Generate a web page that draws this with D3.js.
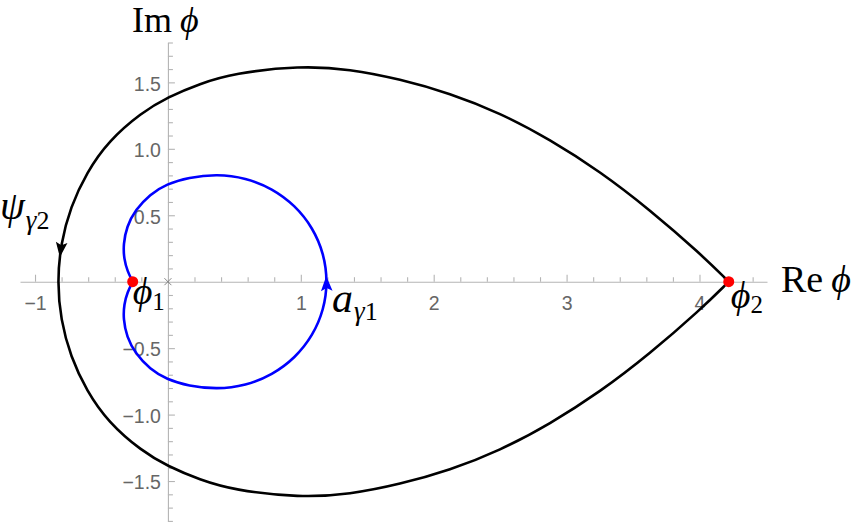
<!DOCTYPE html>
<html lang="en">
<head>
  <meta charset="utf-8" />
  <script src="https://d3js.org/d3.v7.min.js"></script>
  <style>
    body {
      margin: 0;
      background: #fff;
    }
    .tick text {
      font-family: "Liberation Sans", Arial, sans-serif;
      font-size: 19.5px;
      fill: #666;
    }
    .math {
      font-family: "Liberation Serif", "DejaVu Serif", serif;
      fill: #000;
    }
  </style>
</head>
<body>
  <script>
    var width = 857,
      height = 522;

    // plot range
    var xDomain = [-1.113, 4.508];
    var yDomain = [-1.8, 1.8];

    // tick values
    var xMajorTicks = [-1, 1, 2, 3, 4];
    var xMinorTicks = [-0.8, -0.6, -0.4, -0.2, 0.2, 0.4, 0.6, 0.8, 1.2, 1.4, 1.6, 1.8,
      2.2, 2.4, 2.6, 2.8, 3.2, 3.4, 3.6, 3.8, 4.2, 4.4];
    var yMajorTicks = [-1.5, -1.0, -0.5, 0.5, 1.0, 1.5];
    var yMinorTicks = [-1.8, -1.7, -1.6, -1.4, -1.3, -1.2, -1.1, -0.9, -0.8, -0.7, -0.6,
      -0.4, -0.3, -0.2, -0.1, 0.1, 0.2, 0.3, 0.4, 0.6, 0.7, 0.8, 0.9,
      1.1, 1.2, 1.3, 1.4, 1.6, 1.7, 1.8];

    // psi_gamma2 : black contour, from phi2 counterclockwise back to phi2
    var blackCurve = [
      [4.22, 0], [4.003, 0.214], [3.627, 0.541], [3.251, 0.830], [2.875, 1.070],
      [2.499, 1.270], [2.122, 1.418], [1.746, 1.524], [1.370, 1.600], [0.994, 1.625],
      [0.492, 1.568], [0.24, 1.49], [0, 1.39], [-0.20, 1.272], [-0.448, 1.058],
      [-0.612, 0.821], [-0.733, 0.562], [-0.807, 0.285], [-0.832, 0],
      [-0.807, -0.285], [-0.733, -0.562], [-0.612, -0.821], [-0.448, -1.058],
      [-0.20, -1.272], [0, -1.39], [0.24, -1.49], [0.492, -1.568], [0.994, -1.625],
      [1.370, -1.600], [1.746, -1.524], [2.122, -1.418], [2.499, -1.270], [2.875, -1.070],
      [3.251, -0.830], [3.627, -0.541], [4.003, -0.214], [4.22, 0]
    ];

    // a_gamma1 : blue loop, from phi1 counterclockwise back to phi1
    var blueCurve = [
      [-0.265, 0], [-0.305, -0.08], [-0.33, -0.17], [-0.336, -0.28], [-0.31, -0.415],
      [-0.245, -0.54], [-0.135, -0.658], [-0.01, -0.735], [0.155, -0.785],
      [0.37, -0.81], [0.585, -0.782], [0.786, -0.701], [0.958, -0.573],
      [1.091, -0.405], [1.174, -0.21], [1.202, 0], [1.174, 0.21], [1.091, 0.405],
      [0.958, 0.573], [0.786, 0.701], [0.585, 0.782], [0.37, 0.81], [0.155, 0.785],
      [-0.01, 0.735], [-0.135, 0.658], [-0.245, 0.54], [-0.31, 0.415], [-0.336, 0.28],
      [-0.33, 0.17], [-0.305, 0.08], [-0.265, 0]
    ];

    // where the direction arrows sit (tip) on each contour
    var arrowTips = [
      { curve: "black", re: -0.815, im: 0.19 },
      { curve: "blue", re: 1.202, im: 0.035 }
    ];

    // critical points
    var points = [
      { name: "phi1", re: -0.265, im: 0 },
      { name: "phi2", re: 4.22, im: 0 }
    ];

    var svg = d3.select("body")
      .append("svg")
      .attr("width", width)
      .attr("height", height);

    var x = d3.scaleLinear().domain(xDomain).range([20, 767]);
    var y = d3.scaleLinear().domain(yDomain).range([520.9, 42.5]);

    var axisColor = "#b4b4b4";

    // x axis
    var xAxisG = svg.append("g")
      .attr("transform", "translate(0," + y(0) + ")");
    xAxisG.append("g")
      .call(d3.axisBottom(x).tickValues(xMinorTicks).tickSizeInner(-4.5).tickSizeOuter(0).tickFormat(""));
    xAxisG.append("g")
      .call(d3.axisBottom(x).tickValues(xMajorTicks).tickSizeInner(-7).tickSizeOuter(0)
        .tickPadding(14).tickFormat(d3.format("d")))
      .call(function (g) { g.select(".domain").remove(); });

    // y axis
    var yAxisG = svg.append("g")
      .attr("transform", "translate(" + x(0) + ",0)");
    yAxisG.append("g")
      .call(d3.axisLeft(y).tickValues(yMinorTicks).tickSizeInner(-5).tickSizeOuter(0).tickFormat(""));
    yAxisG.append("g")
      .call(d3.axisLeft(y).tickValues(yMajorTicks).tickSizeInner(-7).tickSizeOuter(0)
        .tickPadding(7).tickFormat(d3.format(".1f")))
      .call(function (g) { g.select(".domain").remove(); })
      .selectAll("text").attr("dy", "0.4em");

    svg.selectAll(".domain, .tick line")
      .attr("stroke", axisColor)
      .attr("stroke-width", 1.1);

    // little cross at the origin
    var ox = x(0), oy = y(0);
    svg.append("path")
      .attr("d", "M" + (ox - 3.5) + "," + (oy - 3.5) + "L" + (ox + 3.5) + "," + (oy + 3.5) +
        "M" + (ox - 3.5) + "," + (oy + 3.5) + "L" + (ox + 3.5) + "," + (oy - 3.5))
      .attr("stroke", "#777")
      .attr("stroke-width", 0.9);

    // B-spline through the read points keeps the contours smooth
    var line = d3.line()
      .x(function (d) { return x(d[0]); })
      .y(function (d) { return y(d[1]); })
      .curve(d3.curveBasis);

    var paths = {};
    paths.blue = svg.append("path")
      .datum(blueCurve)
      .attr("d", line)
      .attr("fill", "none")
      .attr("stroke", "#0000ff")
      .attr("stroke-width", 2.6);

    paths.black = svg.append("path")
      .datum(blackCurve)
      .attr("d", line)
      .attr("fill", "none")
      .attr("stroke", "#000")
      .attr("stroke-width", 2.6);

    var colors = { black: "#000", blue: "#0000ff" };

    // arrowhead at the point of the path closest to the tip, following the path direction
    arrowTips.forEach(function (a) {
      var node = paths[a.curve].node();
      var L = node.getTotalLength();
      var tx = x(a.re), ty = y(a.im);
      var best = 0, bestD = Infinity;
      for (var s = 0; s <= L; s += 0.5) {
        var p = node.getPointAtLength(s);
        var dd = (p.x - tx) * (p.x - tx) + (p.y - ty) * (p.y - ty);
        if (dd < bestD) { bestD = dd; best = s; }
      }
      var p1 = node.getPointAtLength(best);
      var p0 = node.getPointAtLength(Math.max(0, best - 3));
      var ang = Math.atan2(p1.y - p0.y, p1.x - p0.x) * 180 / Math.PI;
      svg.append("path")
        .attr("d", "M1,0L-14,-5.8L-11,0L-14,5.8Z")
        .attr("transform", "translate(" + p1.x + "," + p1.y + ") rotate(" + ang + ")")
        .attr("fill", colors[a.curve]);
    });

    svg.selectAll(".crit")
      .data(points)
      .enter().append("circle")
      .attr("class", "crit")
      .attr("cx", function (d) { return x(d.re); })
      .attr("cy", function (d) { return y(d.im); })
      .attr("r", 5.5)
      .attr("fill", "#ff0000");

    // labels
    function mathLabel(px, py, parts) {
      var t = svg.append("text").attr("class", "math").attr("x", px).attr("y", py);
      parts.forEach(function (p) {
        var s = t.append("tspan").text(p.text)
          .style("font-size", p.size + "px")
          .style("font-style", p.italic ? "italic" : "normal");
        if (p.dy) s.attr("dy", p.dy);
        if (p.dx) s.attr("dx", p.dx);
      });
      return t;
    }

    mathLabel(132, 32, [
      { text: "Im", size: 36 },
      { text: "\u03D5", size: 36, italic: true, dx: 8 }
    ]);
    mathLabel(781, 292, [
      { text: "Re", size: 38 },
      { text: "\u03D5", size: 38, italic: true, dx: 8 }
    ]);
    mathLabel(0, 219, [
      { text: "\u03C8", size: 40, italic: true },
      { text: "\u03B3", size: 27, italic: true, dy: 10, dx: 1 },
      { text: "2", size: 26 }
    ]);
    mathLabel(x(points[0].re), 304, [
      { text: "\u03D5", size: 38, italic: true },
      { text: "1", size: 25, dy: 6 }
    ]);
    mathLabel(x(points[1].re) + 2, 308, [
      { text: "\u03D5", size: 38, italic: true },
      { text: "2", size: 25, dy: 5 }
    ]);
    mathLabel(332, 312, [
      { text: "a", size: 42, italic: true },
      { text: "\u03B3", size: 27, italic: true, dy: 8, dx: 1 },
      { text: "1", size: 26 }
    ]);
  </script>
</body>
</html>
